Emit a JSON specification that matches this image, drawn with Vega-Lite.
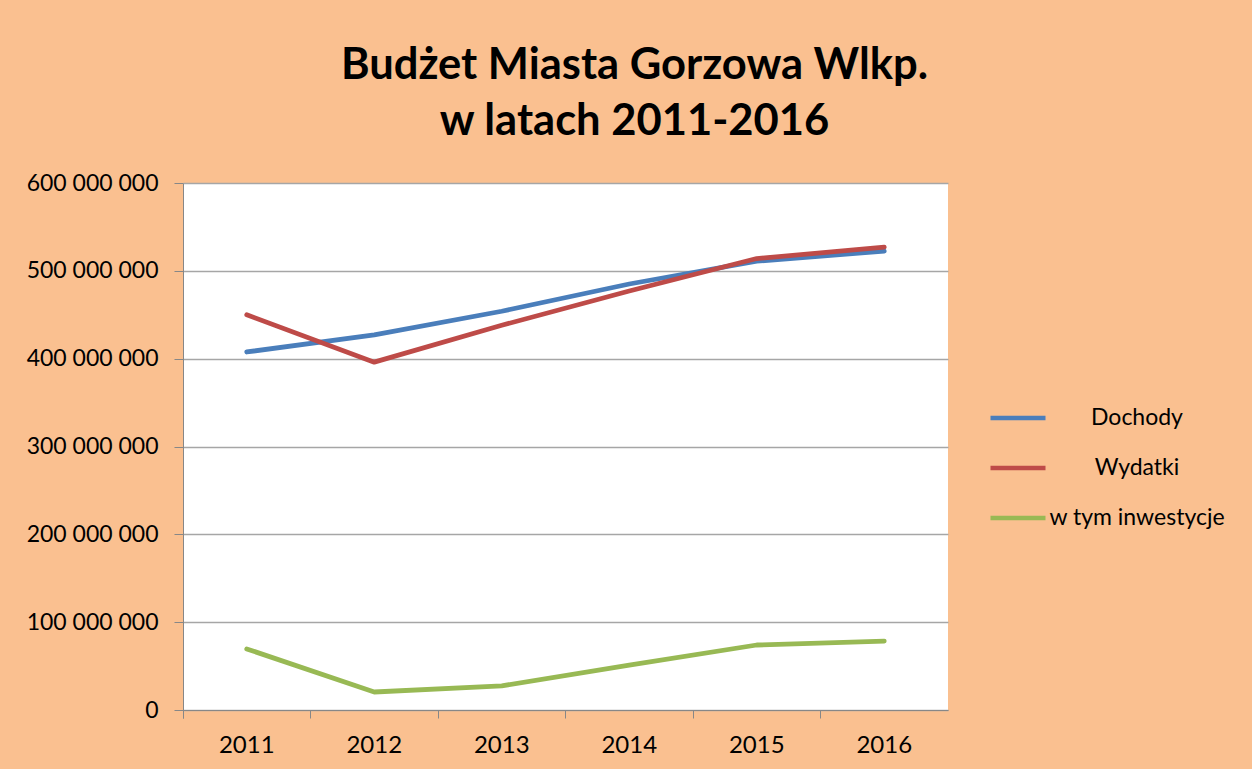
{
  "$schema": "https://vega.github.io/schema/vega-lite/v6.json",
  "width": 765,
  "height": 527,
  "autosize": {"type": "none"},
  "padding": {"left": 183, "top": 183, "right": 304, "bottom": 59},
  "background": "#FAC090",
  "title": {
    "text": ["Budżet Miasta Gorzowa Wlkp.", "w latach 2011-2016"],
    "font": "Lato",
    "fontSize": 43.5,
    "fontWeight": "bold",
    "color": "#000000",
    "anchor": "middle",
    "dx": 69,
    "offset": 28,
    "lineHeight": 56
  },
  "data": {
    "values": [
      {"rok": "2011", "seria": "Dochody", "wartosc": 407600000},
      {"rok": "2012", "seria": "Dochody", "wartosc": 427000000},
      {"rok": "2013", "seria": "Dochody", "wartosc": 454000000},
      {"rok": "2014", "seria": "Dochody", "wartosc": 485000000},
      {"rok": "2015", "seria": "Dochody", "wartosc": 511000000},
      {"rok": "2016", "seria": "Dochody", "wartosc": 522500000},
      {"rok": "2011", "seria": "Wydatki", "wartosc": 450000000},
      {"rok": "2012", "seria": "Wydatki", "wartosc": 396000000},
      {"rok": "2013", "seria": "Wydatki", "wartosc": 438000000},
      {"rok": "2014", "seria": "Wydatki", "wartosc": 477000000},
      {"rok": "2015", "seria": "Wydatki", "wartosc": 514000000},
      {"rok": "2016", "seria": "Wydatki", "wartosc": 527000000},
      {"rok": "2011", "seria": "w tym inwestycje", "wartosc": 69500000},
      {"rok": "2012", "seria": "w tym inwestycje", "wartosc": 20500000},
      {"rok": "2013", "seria": "w tym inwestycje", "wartosc": 27500000},
      {"rok": "2014", "seria": "w tym inwestycje", "wartosc": 51000000},
      {"rok": "2015", "seria": "w tym inwestycje", "wartosc": 74000000},
      {"rok": "2016", "seria": "w tym inwestycje", "wartosc": 78500000}
    ]
  },
  "mark": {"type": "line", "strokeWidth": 4.8, "strokeCap": "round", "strokeJoin": "round"},
  "encoding": {
    "x": {
      "field": "rok",
      "type": "ordinal",
      "title": null,
      "scale": {"type": "band", "paddingInner": 0, "paddingOuter": 0},
      "axis": {
        "bandPosition": 0,
        "tickExtra": true,
        "labelAngle": 0,
        "labelFont": "Lato",
        "labelFontSize": 24,
        "labelColor": "#000000",
        "labelPadding": 15,
        "tickSize": 8,
        "tickColor": "#878787",
        "domainColor": "#878787",
        "grid": false
      }
    },
    "y": {
      "field": "wartosc",
      "type": "quantitative",
      "title": null,
      "scale": {"domain": [0, 600000000], "nice": false},
      "axis": {
        "values": [0, 100000000, 200000000, 300000000, 400000000, 500000000, 600000000],
        "labelExpr": "replace(format(datum.value, ',d'), /,/g, ' ')",
        "labelFont": "Lato",
        "labelFontSize": 23,
        "labelColor": "#000000",
        "labelPadding": 16,
        "tickSize": 9,
        "tickColor": "#878787",
        "domainColor": "#878787",
        "gridColor": "#A6A6A6",
        "gridWidth": 1.3
      }
    },
    "color": {
      "field": "seria",
      "type": "nominal",
      "title": null,
      "scale": {
        "domain": ["Dochody", "Wydatki", "w tym inwestycje"],
        "range": ["#4A7EBB", "#BE4B48", "#98B954"]
      },
      "legend": {
        "orient": "none",
        "legendX": 805,
        "legendY": 205,
        "symbolType": "stroke",
        "symbolSize": 3025,
        "symbolStrokeWidth": 4.5,
        "labelFont": "Lato",
        "labelFontSize": 23,
        "labelColor": "#000000",
        "labelAlign": "center",
        "labelOffset": 89,
        "labelLimit": 300,
        "rowPadding": 8
      }
    }
  },
  "config": {
    "view": {"fill": "#FFFFFF", "stroke": null}
  }
}
